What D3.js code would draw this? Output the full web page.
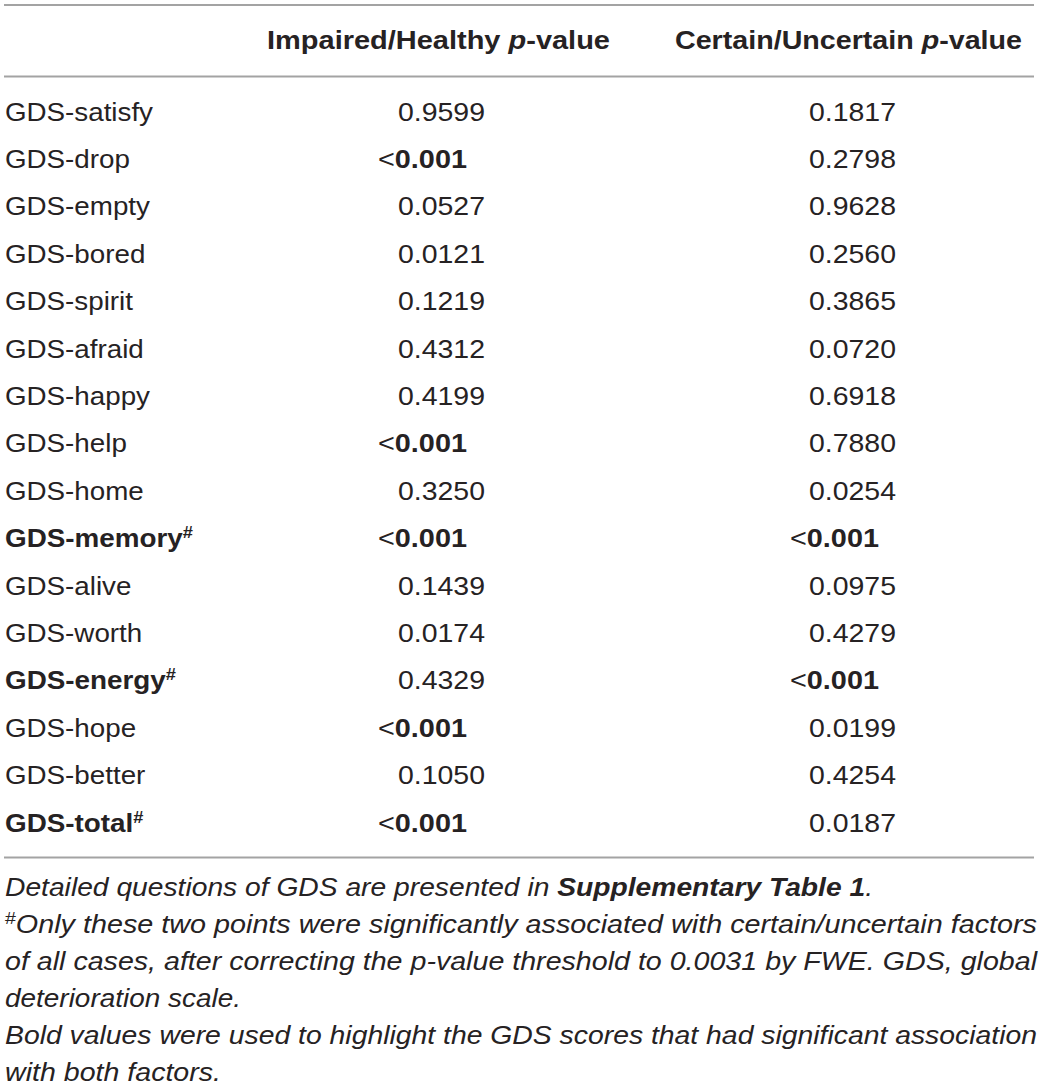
<!DOCTYPE html>
<html>
<head>
<meta charset="utf-8">
<script src="https://cdn.jsdelivr.net/npm/d3@7"></script>
<style>
  html, body { margin: 0; padding: 0; background: #fff; }
  svg { display: block; }
  text { font-family: "Liberation Sans", Arial, Helvetica, sans-serif; fill: #262223; }
</style>
</head>
<body>
<svg id="chart" width="1039" height="1089"></svg>
<script>
// ---- data ----
const columnHeaders = ["Impaired/Healthy", "Certain/Uncertain"];
const items = ["GDS-satisfy","GDS-drop","GDS-empty","GDS-bored","GDS-spirit","GDS-afraid","GDS-happy","GDS-help","GDS-home","GDS-memory","GDS-alive","GDS-worth","GDS-energy","GDS-hope","GDS-better","GDS-total"];
const impairedP = ["0.9599","<0.001","0.0527","0.0121","0.1219","0.4312","0.4199","<0.001","0.3250","<0.001","0.1439","0.0174","0.4329","<0.001","0.1050","<0.001"];
const certainP  = ["0.1817","0.2798","0.9628","0.2560","0.3865","0.0720","0.6918","0.7880","0.0254","<0.001","0.0975","0.4279","<0.001","0.0199","0.4254","0.0187"];
const flaggedItems = ["GDS-memory","GDS-energy","GDS-total"];
const footnoteLines = [
  [{t:"Detailed questions of GDS are presented in "},{t:"Supplementary Table 1",b:true},{t:"."}],
  [{t:"#",sup:true},{t:"Only these two points were significantly associated with certain/uncertain factors"}],
  [{t:"of all cases, after correcting the p-value threshold to 0.0031 by FWE. GDS, global"}],
  [{t:"deterioration scale."}],
  [{t:"Bold values were used to highlight the GDS scores that had significant association"}],
  [{t:"with both factors."}]
];
const footnoteWidths = [868, 1032, 1032, 236, 1032, 216];

// ---- layout ----
const svg = d3.select("#chart");
const ruleColor = "#a3a3a3";
const rowY = d3.scaleLinear().domain([0, items.length - 1]).range([120.5, 831.5]);
const footY = d3.scaleLinear().domain([0, footnoteLines.length - 1]).range([896, 1081]);

function fit(sel, target) {
  sel.attr("textLength", target).attr("lengthAdjust", "spacingAndGlyphs");
}
function stretch(sel, k) {
  const w = sel.node().getComputedTextLength();
  fit(sel, w * k);
}

// rules
[5, 76.5, 857.5].forEach(y => {
  svg.append("line").attr("x1", 4).attr("x2", 1034).attr("y1", y).attr("y2", y)
    .attr("stroke", ruleColor).attr("stroke-width", 2);
});

// headers
const headerPos = [{x: 267, w: 343}, {x: 675, w: 347}];
columnHeaders.forEach((h, i) => {
  const t = svg.append("text").attr("x", headerPos[i].x).attr("y", 49)
    .attr("font-size", 26).attr("font-weight", "bold");
  t.append("tspan").text(h + " ");
  t.append("tspan").attr("font-style", "italic").text("p");
  t.append("tspan").text("-value");
  fit(t, headerPos[i].w);
});

// row labels
items.forEach((name, i) => {
  const flagged = flaggedItems.includes(name);
  const t = svg.append("text").attr("x", 5).attr("y", rowY(i)).attr("font-size", 26)
    .attr("font-weight", flagged ? "bold" : "normal");
  t.append("tspan").text(name);
  if (flagged) {
    t.append("tspan").attr("font-size", 17).attr("dy", -9).text("#");
  }
  stretch(t, flagged ? 1.07 : 1.067);
});

// values
const valueCols = [
  {vals: impairedP, numX: 398, ltX: 378},
  {vals: certainP, numX: 809, ltX: 790}
];
valueCols.forEach(col => {
  col.vals.forEach((v, i) => {
    const isLt = v.startsWith("<");
    const t = svg.append("text").attr("y", rowY(i)).attr("font-size", 26)
      .attr("x", isLt ? col.ltX : col.numX);
    if (isLt) {
      t.append("tspan").text("<");
      t.append("tspan").attr("font-weight", "bold").text(v.slice(1));
      fit(t, 89);
    } else {
      t.text(v);
      fit(t, 87);
    }
  });
});

// footnotes
footnoteLines.forEach((line, i) => {
  const t = svg.append("text").attr("x", 5).attr("y", footY(i)).attr("font-size", 25)
    .attr("font-style", "italic");
  line.forEach(seg => {
    const s = t.append("tspan").text(seg.t);
    if (seg.b) s.attr("font-weight", "bold");
    if (seg.sup) { s.attr("font-size", 17).attr("font-style", "normal").attr("dy", -9); }
  });
  if (line.some(s => s.sup)) {
    t.selectAll("tspan").filter((d, j) => j === 1).attr("dy", 9);
  }
  fit(t, footnoteWidths[i]);
});
</script>
</body>
</html>
